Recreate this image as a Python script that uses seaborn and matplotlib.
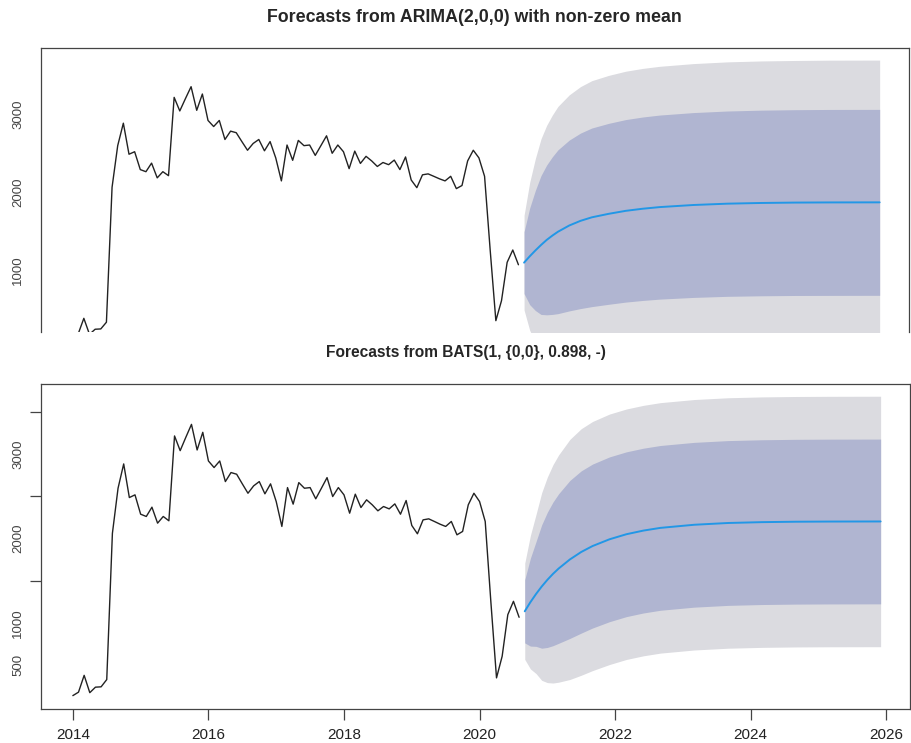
import numpy as np
import pandas as pd
import seaborn as sns
import matplotlib.pyplot as plt

# monthly series, Jan 2014 .. Aug 2020
hist_values = [140, 181, 380, 175, 240, 244, 330, 2060, 2594, 2882, 2484, 2516,
               2287, 2260, 2370, 2181, 2260, 2209, 3213, 3039, 3197, 3350, 3047, 3256,
               2917, 2839, 2917, 2673, 2780, 2760, 2646, 2535, 2622, 2673, 2528, 2646,
               2437, 2142, 2602, 2406, 2661, 2594, 2602, 2469, 2594, 2720, 2496, 2602,
               2516, 2299, 2524, 2366, 2457, 2398, 2327, 2378, 2350, 2409, 2287, 2449,
               2154, 2055, 2220, 2232, 2201, 2169, 2142, 2201, 2043, 2083, 2398, 2535,
               2437, 2201, 1250, 350, 606, 1098, 1256, 1067]

# forecast horizon (months after Sep 2020) where the curves were read
fc_step = [0, 1, 2, 3, 4, 5, 6, 8, 10, 12, 15, 18, 21, 24, 30, 36, 42, 48, 54, 63]

# ARIMA(2,0,0) with non-zero mean
arima_mean = [1094, 1175, 1250, 1320, 1385, 1440, 1490, 1570, 1630, 1675,
              1720, 1758, 1785, 1806, 1833, 1850, 1859, 1864, 1866, 1867]
arima_lo80 = [697, 555, 480, 430, 425, 430, 440, 475, 505, 530,
              560, 588, 609, 626, 648, 662, 669, 673, 674, 675]
arima_hi80 = [1491, 1795, 2020, 2210, 2345, 2450, 2540, 2665, 2755, 2820,
              2880, 2928, 2961, 2986, 3018, 3038, 3049, 3055, 3058, 3059]
arima_lo95 = [487, 226, 72, -42, -84, -105, -117, -105, -91, -77,
              -55, -32, -14, 1, 20, 32, 38, 42, 42, 43]
arima_hi95 = [1701, 2124, 2428, 2682, 2854, 2985, 3097, 3245, 3351, 3427,
              3495, 3548, 3584, 3611, 3646, 3668, 3680, 3686, 3690, 3691]

# BATS(1, {0,0}, 0.898, -)
bats_mean = [1138, 1246, 1343, 1431, 1510, 1581, 1644, 1752, 1840, 1910,
             1990, 2050, 2093, 2125, 2162, 2183, 2193, 2198, 2200, 2201]
bats_lo80 = [764, 726, 723, 701, 710, 731, 759, 817, 880, 940,
             1015, 1075, 1118, 1150, 1187, 1208, 1218, 1223, 1225, 1226]
bats_hi80 = [1512, 1766, 1963, 2161, 2310, 2431, 2529, 2687, 2800, 2880,
             2965, 3025, 3068, 3100, 3137, 3158, 3168, 3173, 3175, 3176]
bats_lo95 = [569, 456, 401, 321, 294, 289, 299, 331, 381, 436,
             508, 568, 611, 643, 680, 701, 711, 716, 718, 719]
bats_hi95 = [1707, 2036, 2285, 2541, 2726, 2873, 2989, 3173, 3299, 3384,
             3472, 3532, 3575, 3607, 3644, 3665, 3675, 3680, 3682, 3683]

titles = ["Forecasts from ARIMA(2,0,0) with non-zero mean",
          "Forecasts from BATS(1, {0,0}, 0.898, -)"]
x_ticks = [2014, 2016, 2018, 2020, 2022, 2024, 2026]

sns.set_style("white")
plt.rcParams['font.family'] = ['Liberation Sans', 'DejaVu Sans']

hist = pd.DataFrame({"time": 2014 + np.arange(len(hist_values)) / 12, "value": hist_values})
fc_time = 2020 + 8 / 12 + np.array(fc_step) / 12

col95 = "#dbdbe0"
col80 = "#b0b5d1"
line_blue = "#2297e6"
spine_col = "#444444"

fig = plt.figure(figsize=(9.11, 7.43), dpi=100)
ax_top = fig.add_axes([0.0447, 0.5532, 0.9531, 0.3822])
ax_bot = fig.add_axes([0.0450, 0.0458, 0.9539, 0.4374])

panels = [
    (ax_top, arima_mean, arima_lo80, arima_hi80, arima_lo95, arima_hi95),
    (ax_bot, bats_mean, bats_lo80, bats_hi80, bats_lo95, bats_hi95),
]

for ax, mean, lo80, hi80, lo95, hi95 in panels:
    ax.fill_between(fc_time, lo95, hi95, color=col95, lw=0)
    ax.fill_between(fc_time, lo80, hi80, color=col80, lw=0)
    sns.lineplot(data=hist, x="time", y="value", ax=ax, color="#222222", lw=1.0)
    sns.lineplot(x=fc_time, y=mean, ax=ax, color=line_blue, lw=1.4)
    ax.set_xlim(2013.53, 2026.35)
    ax.set_xlabel("")
    ax.set_ylabel("")
    for s in ax.spines.values():
        s.set_color(spine_col)
        s.set_linewidth(0.9)

# top panel (lower part cut off in the original)
ax_top.set_ylim(205, 3846)
ax_top.spines['bottom'].set_visible(False)
ax_top.set_xticks([])
ax_top.set_yticks([1000, 2000, 3000])
ax_top.tick_params(axis='y', length=0, pad=12, labelsize=9.5, labelcolor="#444444")
for lab in ax_top.get_yticklabels():
    lab.set_rotation(90)
    lab.set_va('center')

# bottom panel
ax_bot.set_ylim(-18, 3828)
ax_bot.set_yticks([500, 1000, 2000, 3000])
ax_bot.set_yticks([1500, 2500, 3500], minor=True)
ax_bot.tick_params(axis='y', which='major', length=0, pad=12, labelsize=9.5, labelcolor="#444444")
ax_bot.tick_params(axis='y', which='minor', length=8, width=0.9, color=spine_col, left=True)
for lab in ax_bot.get_yticklabels():
    lab.set_rotation(90)
    lab.set_va('center')
ax_bot.set_xticks(x_ticks)
ax_bot.tick_params(axis='x', length=8, width=0.9, color=spine_col, bottom=True,
                   labelsize=11, pad=5.5, labelcolor="#222222")

fig.text(0.521, 0.976, titles[0], ha='center', va='center', fontsize=12.8, fontweight='bold')
fig.text(0.511, 0.526, titles[1], ha='center', va='center', fontsize=11.2, fontweight='bold')

fig.savefig("out.png", dpi=100, facecolor="white")
